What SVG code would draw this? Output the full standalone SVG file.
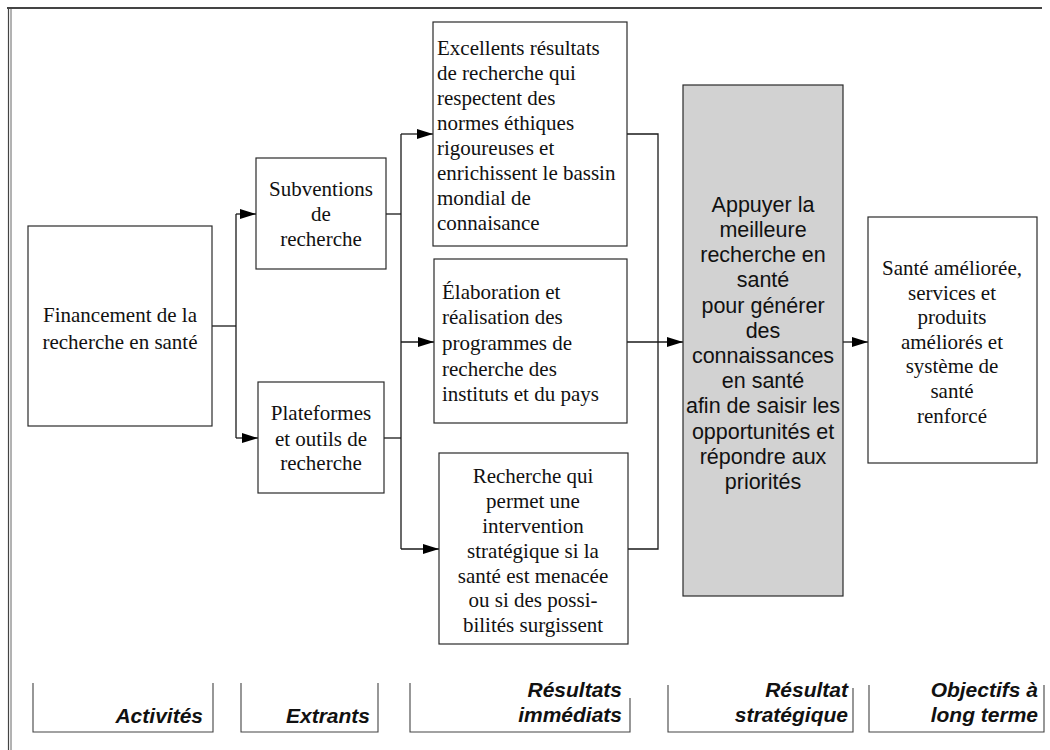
<svg xmlns="http://www.w3.org/2000/svg" width="1050" height="750" viewBox="0 0 1050 750">
<defs>
<style>
.box{fill:#fff;stroke:#2a2a2a;stroke-width:1.2}
.gray{fill:#d2d2d2;stroke:#2a2a2a;stroke-width:1.2}
.ser{font-family:"Liberation Serif","Times New Roman",serif;font-size:21px;fill:#111}
.c{text-anchor:middle}
.san{font-family:"Liberation Sans",Arial,sans-serif;font-size:21.5px;fill:#111;text-anchor:middle}
.lab{font-family:"Liberation Sans",Arial,sans-serif;font-size:21px;font-weight:bold;font-style:italic;fill:#111;text-anchor:end}
.ln{fill:none;stroke:#1a1a1a;stroke-width:1.3}
.br{fill:none;stroke:#444;stroke-width:1.1}
</style>
<marker id="ah" viewBox="0 0 16 10" refX="16" refY="5" markerWidth="16" markerHeight="10" markerUnits="userSpaceOnUse" orient="auto">
<path d="M0,0 L16,5 L0,10 Z" fill="#000"/>
</marker>
</defs>
<rect x="0" y="0" width="1050" height="750" fill="#fff"/>
<g id="frame">
<line x1="7" y1="8" x2="1042" y2="8" stroke="#444" stroke-width="2"/>
<line x1="8.5" y1="7" x2="8.5" y2="750" stroke="#444" stroke-width="1.2"/>
<line x1="11" y1="9" x2="11" y2="750" stroke="#666" stroke-width="1"/>
</g>
<g id="connectors">
<path class="ln" d="M212,326 H236"/>
<path class="ln" d="M236,214 V438"/>
<path class="ln" d="M236,214 H256" marker-end="url(#ah)"/>
<path class="ln" d="M236,438 H258" marker-end="url(#ah)"/>
<path class="ln" d="M386,214 H401"/>
<path class="ln" d="M384,438 H401"/>
<path class="ln" d="M401,134 V549"/>
<path class="ln" d="M401,134 H433" marker-end="url(#ah)"/>
<path class="ln" d="M401,342 H434" marker-end="url(#ah)"/>
<path class="ln" d="M401,549 H439" marker-end="url(#ah)"/>
<path class="ln" d="M627,134 H658 V549 H628"/>
<path class="ln" d="M627,342 H683" marker-end="url(#ah)"/>
<path class="ln" d="M843,342 H868" marker-end="url(#ah)"/>
</g>
<g id="financement">
<rect class="box" x="28" y="226" width="184" height="200"/>
<text class="ser c" x="120" y="322">Financement de la</text>
<text class="ser c" x="120" y="349">recherche en santé</text>
</g>
<g id="subventions">
<rect class="box" x="256" y="158" width="130" height="111"/>
<text class="ser c" x="321" y="196">Subventions</text>
<text class="ser c" x="321" y="221">de</text>
<text class="ser c" x="321" y="246">recherche</text>
</g>
<g id="plateformes">
<rect class="box" x="258" y="382" width="126" height="111"/>
<text class="ser c" x="321" y="420">Plateformes</text>
<text class="ser c" x="321" y="446">et outils de</text>
<text class="ser c" x="321" y="470">recherche</text>
</g>
<g id="excellents">
<rect class="box" x="433" y="22" width="194" height="224"/>
<text class="ser" x="437" y="55">Excellents résultats</text>
<text class="ser" x="437" y="80">de recherche qui</text>
<text class="ser" x="437" y="105">respectent des</text>
<text class="ser" x="437" y="130">normes éthiques</text>
<text class="ser" x="437" y="155">rigoureuses et</text>
<text class="ser" x="437" y="180">enrichissent le bassin</text>
<text class="ser" x="437" y="205">mondial de</text>
<text class="ser" x="437" y="230">connaisance</text>
</g>
<g id="elaboration">
<rect class="box" x="434" y="259" width="193" height="164"/>
<text class="ser" x="442" y="299">Élaboration et</text>
<text class="ser" x="442" y="324">réalisation des</text>
<text class="ser" x="442" y="350">programmes de</text>
<text class="ser" x="442" y="376">recherche des</text>
<text class="ser" x="442" y="401">instituts et du pays</text>
</g>
<g id="recherche-strategique">
<rect class="box" x="439" y="453" width="189" height="191"/>
<text class="ser c" x="533" y="483">Recherche qui</text>
<text class="ser c" x="533" y="508">permet une</text>
<text class="ser c" x="533" y="533">intervention</text>
<text class="ser c" x="533" y="558">stratégique si la</text>
<text class="ser c" x="533" y="583">santé est menacée</text>
<text class="ser c" x="533" y="607">ou si des possi-</text>
<text class="ser c" x="533" y="632">bilités surgissent</text>
</g>
<g id="resultat-strategique">
<rect class="gray" x="683" y="85" width="160" height="511"/>
<text class="san" x="763" y="212">Appuyer la</text>
<text class="san" x="763" y="237">meilleure</text>
<text class="san" x="763" y="262">recherche en</text>
<text class="san" x="763" y="287">santé</text>
<text class="san" x="763" y="313">pour générer</text>
<text class="san" x="763" y="338">des</text>
<text class="san" x="763" y="363">connaissances</text>
<text class="san" x="763" y="388">en santé</text>
<text class="san" x="763" y="413">afin de saisir les</text>
<text class="san" x="763" y="439">opportunités et</text>
<text class="san" x="763" y="464">répondre aux</text>
<text class="san" x="763" y="489">priorités</text>
</g>
<g id="objectifs">
<rect class="box" x="868" y="217" width="169" height="246"/>
<text class="ser c" x="952" y="275">Santé améliorée,</text>
<text class="ser c" x="952" y="300">services et</text>
<text class="ser c" x="952" y="324">produits</text>
<text class="ser c" x="952" y="349">améliorés et</text>
<text class="ser c" x="952" y="373">système de</text>
<text class="ser c" x="952" y="398">santé</text>
<text class="ser c" x="952" y="423">renforcé</text>
</g>
<g id="label-activites">
<path class="br" d="M33,683 V732 H213 V683"/>
<text class="lab" x="203" y="723">Activités</text>
</g>
<g id="label-extrants">
<path class="br" d="M241,683 V732 H378 V683"/>
<text class="lab" x="370" y="723">Extrants</text>
</g>
<g id="label-resultats-immediats">
<path class="br" d="M410,683 V732 H630 V698"/>
<text class="lab" x="622" y="697">Résultats</text>
<text class="lab" x="622" y="722">immédiats</text>
</g>
<g id="label-resultat-strategique">
<path class="br" d="M668,685 V732 H853 V688"/>
<text class="lab" x="848" y="697">Résultat</text>
<text class="lab" x="848" y="722">stratégique</text>
</g>
<g id="label-objectifs">
<path class="br" d="M869,685 V732 H1044 V685"/>
<text class="lab" x="1038" y="697">Objectifs à</text>
<text class="lab" x="1038" y="722">long terme</text>
</g>
</svg>
